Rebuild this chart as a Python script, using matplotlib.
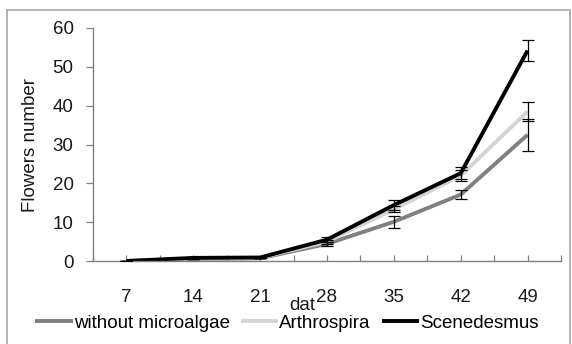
import matplotlib
matplotlib.use("Agg")
import matplotlib.pyplot as plt
from matplotlib.patches import Rectangle

days = [7, 14, 21, 28, 35, 42, 49]
without = [0.0, 0.5, 0.7, 4.4, 10.1, 17.1, 32.5]
without_err = [0.0, 0.0, 0.0, 0.5, 1.5, 1.2, 4.1]
arthro = [0.0, 0.6, 0.8, 5.0, 13.3, 22.0, 38.5]
arthro_err = [0.0, 0.0, 0.0, 0.5, 0.8, 1.5, 2.5]
scene = [0.0, 0.8, 0.9, 5.5, 14.4, 22.6, 54.2]
scene_err = [0.0, 0.0, 0.0, 0.6, 1.3, 1.5, 2.6]
yticks = [0, 10, 20, 30, 40, 50, 60]
names = ["without microalgae", "Arthrospira", "Scenedesmus"]

plt.rcParams['font.family'] = ['Liberation Sans', 'DejaVu Sans']
W, H = 572, 344
fig = plt.figure(figsize=(W / 100, H / 100), dpi=100)
ax = fig.add_axes([93 / W, 1 - 261 / H, (561 - 93) / W, (261 - 28) / H])

fs = 13.5
tc = '#1a1a1a'
series = [(without, without_err, "#808080"), (arthro, arthro_err, "#d4d4d4"), (scene, scene_err, "#000000")]
handles = []
for (vals, err, col), name in zip(series, names):
    ln, = ax.plot(days, vals, color=col, lw=2.8, label=name, zorder=2, solid_capstyle='butt')
    handles.append(ln)
for (vals, err, col) in series:
    ax.errorbar(days, vals, yerr=err, fmt='none', ecolor='black', elinewidth=0.9,
                capsize=4.3, capthick=0.9, zorder=3)

ax.set_xlim(3.5, 52.5)
ax.set_ylim(0, 60)
ax.set_yticks(yticks)
ax.set_yticklabels([str(v) for v in yticks], fontsize=fs, color=tc)
ax.set_xticks([3.5 + 3.5 * k for k in range(15)], minor=True)
ax.set_xticks(days)
ax.set_xticklabels([str(d) for d in days], fontsize=fs, color=tc)
ax.tick_params(axis='x', which='both', direction='in', length=4, color='#808080', width=0.9, pad=20)
ax.tick_params(axis='y', direction='out', length=5, color='#808080', width=0.9, pad=9)
for s in ['top', 'right']:
    ax.spines[s].set_visible(False)
for s in ['left', 'bottom']:
    ax.spines[s].set_color('#808080')
    ax.spines[s].set_linewidth(1.0)

ax.set_ylabel("Flowers number", fontsize=fs, color=tc, labelpad=10)
fig.text(302 / W, 1 - 305 / H, "dat", fontsize=fs, color=tc, ha='center', va='center')

fig.legend(handles=handles, labels=names, loc='center', bbox_to_anchor=(287 / W, 1 - 323 / H),
           ncol=3, frameon=False, fontsize=fs, handlelength=2.0, handletextpad=0.05,
           columnspacing=0.6, borderaxespad=0, borderpad=0)

fig.patches.append(Rectangle((7 / W, -0.05), (570 - 7) / W, 1 - 10 / H + 0.05,
                             transform=fig.transFigure, fill=False, edgecolor='#a6a6a6', lw=1.2))

fig.savefig("out.png", dpi=100)
